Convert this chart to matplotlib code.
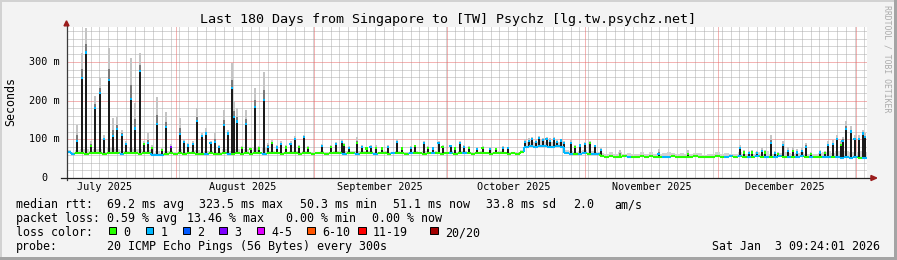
import datetime as dt

import numpy as np
import matplotlib
matplotlib.use('Agg')
from matplotlib import pyplot as plt
from matplotlib.collections import LineCollection
from matplotlib.patches import Rectangle, Polygon

plt.rcParams['font.family'] = ['DejaVu Sans Mono']

W, H = 897, 260
start = dt.datetime(2025, 7, 7, 9, 24, 1)
ndays = 180

# median rtt per day (ms)
base_ms = [66, 63, 64, 65, 63, 64, 65, 64, 63, 64,
           65, 64, 63, 64, 65, 64, 63, 65, 64, 60,
           59, 60, 63, 64, 62, 64, 63, 64, 65, 63,
           62, 63, 64, 62, 63, 64, 63, 62, 64, 63,
           64, 63, 65, 64, 63, 64, 65, 64, 63, 64,
           65, 64, 63, 65, 64, 63, 64, 65, 63, 64,
           65, 64, 63, 64, 65, 63, 64, 65, 64, 63,
           64, 65, 63, 64, 65, 64, 63, 64, 65, 64,
           63, 64, 65, 64, 63, 64, 65, 63, 64, 65,
           64, 63, 64, 65, 64, 63, 64, 65, 64, 63,
           64, 63, 66, 80, 82, 81, 83, 82, 80, 81,
           82, 80, 64, 63, 62, 63, 64, 62, 63, 62,
           56, 55, 56, 55, 55, 56, 55, 54, 55, 56,
           55, 56, 55, 55, 54, 55, 56, 55, 55, 54,
           55, 56, 55, 54, 55, 55, 56, 55, 55, 56,
           55, 56, 55, 54, 55, 56, 55, 55, 54, 55,
           56, 55, 55, 54, 55, 56, 55, 54, 55, 55,
           54, 55, 53, 54, 52, 53, 52, 53, 51, 51]

# packet loss per day (index into loss colours)
base_loss = [1, 1, 0, 0, 0, 0, 0, 0, 0, 0,
             0, 0, 1, 0, 0, 0, 0, 0, 0, 1,
             1, 1, 0, 0, 0, 0, 0, 0, 0, 0,
             0, 1, 0, 0, 0, 0, 1, 0, 0, 0,
             0, 0, 0, 0, 1, 0, 0, 0, 0, 0,
             0, 0, 0, 0, 0, 0, 0, 0, 0, 0,
             0, 0, 1, 0, 0, 1, 0, 0, 0, 1,
             0, 0, 0, 1, 0, 0, 0, 1, 0, 0,
             0, 0, 1, 0, 0, 0, 1, 0, 0, 1,
             0, 0, 0, 0, 0, 0, 0, 0, 0, 0,
             0, 0, 0, 1, 1, 1, 1, 1, 1, 1,
             1, 1, 1, 1, 0, 1, 1, 0, 1, 1,
             0, 0, 0, 0, 0, 0, 1, 0, 0, 0,
             0, 0, 0, 0, 1, 1, 0, 0, 0, 0,
             0, 0, 0, 0, 0, 0, 0, 0, 1, 1,
             0, 1, 0, 1, 0, 1, 0, 1, 0, 1,
             1, 0, 1, 0, 1, 1, 0, 1, 0, 0,
             1, 1, 0, 1, 1, 1, 1, 1, 0, 1]

# smoke extent above the median per day (ms)
base_smoke = [6, 5, 8, 10, 12, 6, 10, 12, 5, 14,
              12, 10, 8, 5, 14, 12, 12, 5, 8, 4,
              10, 4, 8, 5, 4, 10, 5, 4, 5, 10,
              6, 8, 5, 6, 4, 10, 8, 14, 10, 4,
              10, 4, 12, 4, 14, 5, 5, 4, 5, 4,
              5, 6, 4, 6, 4, 3, 4, 5, 3, 4,
              4, 5, 6, 5, 4, 8, 5, 4, 5, 4,
              3, 4, 5, 3, 6, 4, 3, 4, 5, 3,
              6, 4, 3, 6, 4, 3, 5, 4, 6, 4,
              4, 3, 4, 4, 3, 4, 3, 4, 4, 3,
              3, 4, 6, 12, 14, 12, 14, 12, 14, 12,
              12, 10, 8, 8, 6, 8, 8, 6, 6, 5,
              8, 6, 10, 8, 12, 6, 10, 8, 6, 10,
              8, 12, 6, 8, 10, 12, 8, 6, 10, 8,
              6, 8, 10, 6, 8, 6, 12, 8, 10, 6,
              8, 10, 6, 8, 6, 10, 8, 14, 8, 6,
              8, 12, 10, 8, 10, 12, 6, 8, 8, 10,
              12, 14, 12, 16, 14, 18, 16, 14, 18, 16]

# short spikes: day, median (ms), top of smoke (ms), loss index
spike_day = [2.3, 3.5, 4.3, 5.5, 6.4, 7.5, 8.4, 9.5, 10.4, 11.3,
             12.4, 13.3, 14.5, 15.4, 16.5, 17.4, 18.3, 19.3, 20.4, 21.4,
             22.4, 23.5, 25.5, 26.4, 27.4, 28.4, 29.3, 30.4, 31.4, 32.4,
             33.4, 34.4, 35.4, 36.3, 37.2, 37.6, 38.4, 39.4, 40.3, 41.4,
             42.4, 43.4, 44.4, 45.4, 46.3, 47.3, 48.3, 49.3, 50.4, 51.4,
             52.4, 53.4, 54.4, 57.4, 59.5, 60.6, 61.9, 62.5, 63.6, 65.4,
             66.4, 67.5, 68.4, 69.6, 71.0, 72.4, 74.3, 75.5, 77.5, 78.4,
             80.4, 81.4, 82.5, 83.7, 84.6, 86.4, 87.5, 88.5, 89.4, 90.5,
             92.3, 93.6, 95.2, 96.7, 98.2, 99.4, 103.2, 104.0, 104.8, 105.6,
             106.4, 107.2, 108.0, 108.8, 109.6, 110.4, 111.2, 112.0, 113.5, 114.5,
             115.6, 116.6, 117.8, 119.0, 120.2, 124.5, 133.2, 139.8, 151.5, 152.5,
             153.6, 154.3, 155.3, 156.4, 157.2, 158.5, 159.4, 160.1, 161.3, 162.3,
             163.4, 164.3, 165.4, 166.3, 167.5, 169.5, 170.6, 171.4, 172.4, 173.3,
             174.3, 174.6, 175.4, 176.5, 177.3, 178.3, 179.3, 179.7]
spike_ms = [96, 258, 324, 83, 180, 220, 100, 253, 108, 126,
            111, 88, 204, 128, 277, 88, 90, 77, 139, 72,
            131, 81, 114, 94, 84, 88, 147, 108, 115, 90,
            93, 81, 137, 115, 232, 158, 146, 77, 139, 74,
            184, 76, 202, 81, 91, 79, 88, 79, 88, 100,
            80, 105, 77, 83, 80, 87, 94, 85, 78, 90,
            81, 76, 81, 78, 76, 80, 94, 76, 78, 82,
            91, 78, 76, 91, 80, 83, 76, 91, 80, 77,
            75, 78, 75, 74, 77, 77, 92, 96, 100, 94,
            103, 98, 101, 96, 100, 94, 97, 90, 91, 80,
            84, 88, 90, 82, 72, 60, 62, 61, 77, 66,
            64, 66, 64, 70, 66, 91, 64, 62, 85, 70,
            70, 66, 70, 81, 61, 66, 64, 85, 88, 100,
            85, 96, 126, 120, 100, 100, 115, 105]
spike_top = [137, 323, 387, 95, 212, 258, 110, 335, 155, 158,
             125, 96, 309, 194, 322, 95, 116, 84, 210, 78,
             171, 88, 154, 100, 90, 95, 180, 115, 129, 96,
             115, 86, 176, 124, 296, 200, 180, 82, 176, 80,
             232, 82, 275, 90, 98, 85, 96, 85, 95, 108,
             86, 110, 82, 88, 84, 92, 100, 90, 82, 105,
             86, 80, 86, 84, 80, 84, 100, 80, 83, 86,
             96, 82, 80, 95, 84, 86, 80, 96, 84, 82,
             80, 82, 80, 78, 82, 80, 100, 104, 106, 102,
             108, 104, 107, 103, 106, 100, 102, 96, 97, 86,
             88, 92, 95, 86, 78, 72, 74, 72, 85, 72,
             70, 72, 70, 78, 72, 111, 70, 68, 95, 80,
             80, 74, 78, 90, 66, 72, 70, 95, 98, 110,
             95, 106, 148, 135, 112, 110, 125, 115]
spike_loss = [1, 1, 1, 0, 1, 1, 1, 1, 1, 1,
              1, 1, 1, 1, 1, 0, 1, 0, 1, 0,
              1, 3, 1, 1, 1, 1, 1, 1, 1, 1,
              1, 1, 1, 1, 1, 1, 1, 0, 1, 0,
              1, 0, 1, 1, 0, 1, 1, 0, 1, 1,
              0, 1, 0, 1, 0, 1, 1, 0, 1, 0,
              1, 0, 1, 0, 0, 1, 1, 0, 1, 0,
              1, 0, 1, 1, 0, 1, 0, 1, 1, 0,
              1, 0, 1, 0, 1, 1, 1, 1, 1, 1,
              1, 1, 1, 1, 1, 1, 1, 1, 1, 0,
              1, 1, 0, 1, 1, 0, 1, 0, 1, 0,
              1, 0, 1, 1, 0, 1, 1, 0, 1, 1,
              0, 1, 1, 1, 0, 1, 0, 1, 1, 1,
              0, 1, 1, 1, 1, 1, 1, 1]

loss_colors = ['#26ff00', '#00b8ff', '#0059ff', '#7e00ff',
               '#e000ff', '#ff5500', '#ff0000', '#a10000']
loss_labels = ['0', '1', '2', '3', '4-5', '6-10', '11-19', '20/20']

month_starts = [dt.datetime(2025, 8, 1), dt.datetime(2025, 9, 1), dt.datetime(2025, 10, 1),
                dt.datetime(2025, 11, 1), dt.datetime(2025, 12, 1), dt.datetime(2026, 1, 1)]
month_labels = ['July 2025', 'August 2025', 'September 2025',
                'October 2025', 'November 2025', 'December 2025']
month_label_dates = [dt.datetime(2025, m, 16) for m in range(7, 13)]
y_ticks = [0, 100, 200, 300]
y_tick_labels = ['0  ', '100 m', '200 m', '300 m']


def day_of(d):
    return (d - start).total_seconds() / 86400.0


def fx(px):
    return px / W


def fy(py):
    return 1 - py / H


fig = plt.figure(figsize=(W / 100, H / 100), dpi=100, facecolor='#f3f3f3')

# frame
fig.add_artist(Rectangle((0, fy(2)), 1, 2 / H, transform=fig.transFigure, color='#d2d2d2', lw=0))
fig.add_artist(Rectangle((0, 0), 2 / W, 1, transform=fig.transFigure, color='#d2d2d2', lw=0))
fig.add_artist(Rectangle((0, 0), 1, 3 / H, transform=fig.transFigure, color='#a4a4a4', lw=0))
fig.add_artist(Rectangle((fx(W - 3), 0), 3 / W, 1, transform=fig.transFigure, color='#a4a4a4', lw=0))

ax = fig.add_axes([fx(66.5), fy(178), 800 / W, 151 / H])
ax.set_xlim(0, ndays)
ax.set_ylim(0, 390)
ax.set_facecolor('white')
for s in ax.spines.values():
    s.set_visible(False)
ax.set_xticks([])
ax.set_yticks([])

dots = (0, (1, 1))
# minor grid
for v in range(20, 390, 20):
    if v % 100:
        ax.axhline(v, color='#acacac', lw=0.72, ls=dots, zorder=0)
for d in np.arange(1.4, ndays, 2):
    ax.axvline(d, color='#acacac', lw=0.72, ls=dots, zorder=0)
# major grid
for v in y_ticks[1:]:
    ax.axhline(v, color='#e86a6a', lw=0.72, ls=dots, zorder=0.5)
for m in month_starts:
    ax.axvline(day_of(m), color='#e86a6a', lw=0.72, ls=dots, zorder=0.5)

base = np.array(base_ms, dtype=float)
days = np.arange(ndays)
edges = np.arange(ndays + 1)

# smoke around the median
ax.fill_between(edges, np.append(base, base[-1]),
                np.append(base + base_smoke, base[-1] + base_smoke[-1]),
                step='post', color='#d4d4d4', lw=0, zorder=1)

# spikes
sd = np.array(spike_day)
sb = base[sd.astype(int)]
sm = np.array(spike_ms, dtype=float)
st = np.array(spike_top, dtype=float)
ax.vlines(sd, sm, st, color='#c4c4c4', lw=1.44, zorder=2)
ax.vlines(sd, sm, sm + (st - sm) * 0.35, color='#7a7a7a', lw=1.44, zorder=2)
ax.vlines(sd, sb, sm, color='#1c1c1c', lw=1.44, zorder=3)

# median line coloured by loss
segs, cols = [], []
for i in days:
    segs.append([(i, base[i]), (i + 1, base[i])])
    cols.append(loss_colors[base_loss[i]])
    if i + 1 < ndays:
        segs.append([(i + 1, base[i]), (i + 1, base[i + 1])])
        cols.append(loss_colors[base_loss[i + 1]])
ax.add_collection(LineCollection(segs, colors=cols, linewidths=1.5, zorder=4))
ax.scatter(sd, sm, s=2.5, marker='s', c=[loss_colors[k] for k in spike_loss], lw=0, zorder=5)

# axes with arrows
ax.plot([0, 0], [-5, 396], color='#3a3a3a', lw=0.9, clip_on=False, zorder=6)
ax.plot([-1.2, 181.2], [0, 0], color='#202020', lw=0.9, clip_on=False, zorder=6)
ax.add_patch(Polygon([(-0.56, 393), (0.56, 393), (0, 406)], closed=True,
                     color='#9b1c1c', clip_on=False, zorder=7))
ax.add_patch(Polygon([(181.0, -6.5), (181.0, 6.5), (182.3, 0)], closed=True,
                     color='#9b1c1c', clip_on=False, zorder=7))

# tick labels
for v, lab in zip(y_ticks, y_tick_labels):
    ax.text(-1.45, v, lab, ha='right', va='center', fontsize=7.3, color='#000000')
for d, lab in zip(month_label_dates, month_labels):
    ax.text(day_of(d), -24, lab, ha='center', va='center', fontsize=7.3, color='#000000')

fig.text(fx(11), fy(102), 'Seconds', rotation=90, ha='center', va='center', fontsize=8.4)
fig.text(fx(448), fy(23), 'Last 180 Days from Singapore to [TW] Psychz [lg.tw.psychz.net]',
         ha='center', va='baseline', fontsize=9.6)
fig.text(fx(887), fy(59), 'RRDTOOL / TOBI OETIKER', rotation=270, ha='center', va='center',
         fontsize=5.9, color='#ababab')

# legend
lg = 8.4
row1 = [(16, 'median rtt:'), (107, '69.2 ms avg'), (199, '323.5 ms max'), (300, '50.3 ms min'),
        (393, '51.1 ms now'), (486, '33.8 ms sd'), (573, '2.0'), (614, 'am/s')]
row2 = [(16, 'packet loss:'), (107, '0.59 % avg'), (187, '13.46 % max'),
        (286, '0.00 % min'), (372, '0.00 % now')]
for x, t in row1:
    fig.text(fx(x), fy(208), t, ha='left', va='baseline', fontsize=lg)
for x, t in row2:
    fig.text(fx(x), fy(222), t, ha='left', va='baseline', fontsize=lg)

fig.text(fx(16), fy(236), 'loss color:', ha='left', va='baseline', fontsize=lg)
box_x = [108.5, 145.5, 182.5, 219, 256.5, 307, 358, 430]
for bx, c, lab in zip(box_x, loss_colors, loss_labels):
    fig.add_artist(Rectangle((fx(bx), fy(234)), 7.5 / W, 7.5 / H, transform=fig.transFigure,
                             facecolor=c, edgecolor='#000000', lw=0.7))
    fig.text(fx(bx + 15), fy(236), lab, ha='left', va='baseline', fontsize=lg)

fig.text(fx(16), fy(250), 'probe:', ha='left', va='baseline', fontsize=lg)
fig.text(fx(107), fy(250), '20 ICMP Echo Pings (56 Bytes) every 300s',
         ha='left', va='baseline', fontsize=lg)
fig.text(fx(880), fy(250), 'Sat Jan  3 09:24:01 2026', ha='right', va='baseline', fontsize=lg)

fig.savefig('out.png', dpi=100, facecolor=fig.get_facecolor())
